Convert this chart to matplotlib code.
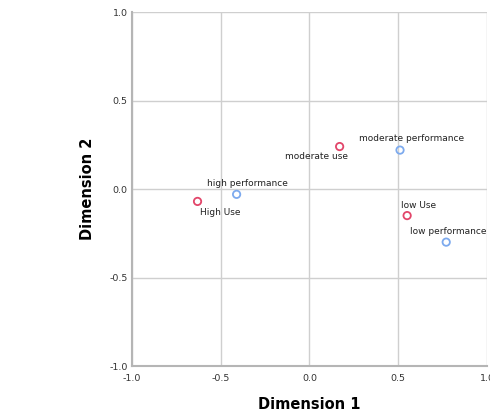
import matplotlib
matplotlib.use('Agg')
import matplotlib.pyplot as plt

# puntos de uso (rojo) y de rendimiento (azul)
uso_nombres = ['High Use', 'moderate use', 'low Use']
uso_x = [-0.63, 0.17, 0.55]
uso_y = [-0.07, 0.24, -0.15]

rend_nombres = ['high performance', 'moderate performance', 'low performance']
rend_x = [-0.41, 0.51, 0.77]
rend_y = [-0.03, 0.22, -0.30]

ticks = [-1.0, -0.5, 0.0, 0.5, 1.0]
tick_labels = ['-1.0', '-0.5', '0.0', '0.5', '1.0']

fig = plt.figure(figsize=(4.9, 4.15), dpi=100)
ax = fig.add_axes([0.269, 0.118, 0.725, 0.853])

ax.scatter(uso_x, uso_y, s=28, facecolors='none', edgecolors='#E2466A', linewidths=1.3, zorder=3)
ax.scatter(rend_x, rend_y, s=28, facecolors='none', edgecolors='#7DAAEE', linewidths=1.3, zorder=3)

# etiquetas: desplazamiento en puntos (dx, dy) para cada una, centradas
off_uso = [(16, -7.7), (-17, -7.2), (8, 7.5)]
off_rend = [(8, 8), (8, 8), (1.5, 7.5)]
for n, x, y, (dx, dy) in zip(uso_nombres, uso_x, uso_y, off_uso):
    ax.annotate(n, (x, y), xytext=(dx, dy), textcoords='offset points',
                ha='center', va='center', fontsize=6.5, color='#222222', clip_on=False)
for n, x, y, (dx, dy) in zip(rend_nombres, rend_x, rend_y, off_rend):
    ax.annotate(n, (x, y), xytext=(dx, dy), textcoords='offset points',
                ha='center', va='center', fontsize=6.5, color='#222222', clip_on=False)

ax.set_xlim(-1.0, 1.0)
ax.set_ylim(-1.0, 1.0)
ax.set_xticks(ticks)
ax.set_xticklabels(tick_labels)
ax.set_yticks(ticks)
ax.set_yticklabels(tick_labels)
ax.tick_params(length=0, labelsize=6.8, colors='#333333')
ax.tick_params(axis='x', pad=6)
ax.tick_params(axis='y', pad=3)
ax.grid(True, color='#cfcfcf', linewidth=1.0)
ax.set_axisbelow(True)

for s in ['top', 'right']:
    ax.spines[s].set_visible(False)
for s in ['left', 'bottom']:
    ax.spines[s].set_color('#b5b5b5')
    ax.spines[s].set_linewidth(1.5)

ax.set_xlabel('Dimension 1', fontsize=10.5, fontweight='bold', labelpad=10)
ax.set_ylabel('Dimension 2', fontsize=10.5, fontweight='bold', labelpad=10)

fig.savefig('out.png', dpi=100)
